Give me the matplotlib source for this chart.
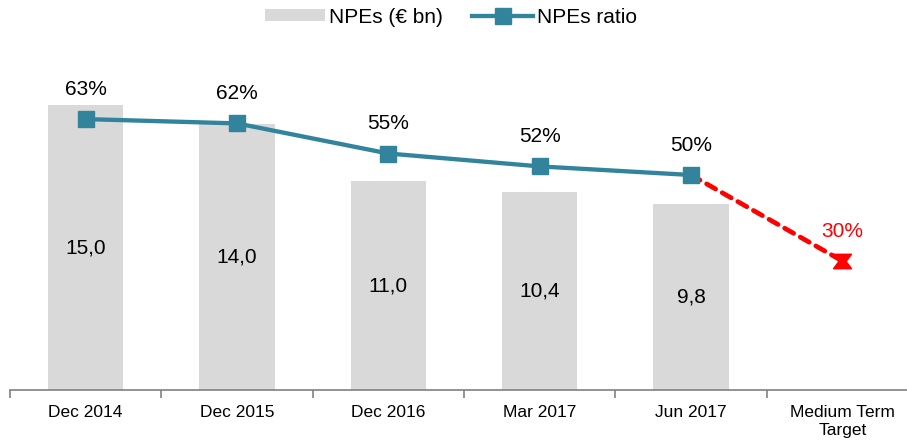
import matplotlib
matplotlib.use("Agg")
import matplotlib.pyplot as plt
from matplotlib.lines import Line2D
from matplotlib.patches import Patch

plt.rcParams['font.family'] = ['Liberation Sans', 'DejaVu Sans']

categories = ["Dec 2014", "Dec 2015", "Dec 2016", "Mar 2017", "Jun 2017", "Medium Term\nTarget"]
npes_bn = [15.0, 14.0, 11.0, 10.4, 9.8]
npes_ratio = [63, 62, 55, 52, 50]
target_ratio = 30

W, H = 907, 445
fig = plt.figure(figsize=(W/100, H/100), dpi=100)
left_px, right_px = 10, 918
bottom_px, top_px = 390, 40
ax = fig.add_axes([left_px/W, (H-bottom_px)/H, (right_px-left_px)/W, (bottom_px-top_px)/H])
ax2 = ax.twinx()

x = list(range(len(categories)))
bar_color = "#D9D9D9"
line_color = "#31849B"

ax.bar(x[:len(npes_bn)], npes_bn, width=0.5, color=bar_color, zorder=1)
for xi, v in zip(x, npes_bn):
    ax.text(xi, v/2, f"{v:.1f}".replace(".", ","), ha="center", va="center", fontsize=15, color="black")

ax.set_xlim(-0.5, len(categories)-0.5)
ax.set_ylim(0, 350/19)
ax2.set_ylim(0, 350/4.3)

hourglass = [(-1, 0.8), (1, 0.8), (0.4, 0), (1, -0.8), (-1, -0.8), (-0.4, 0), (-1, 0.8)]

# dashed target line
ax2.plot([x[4], x[5]], [npes_ratio[-1], target_ratio], color="red", lw=3.4, ls=(0, (2.2, 1.6)),
         dash_capstyle="round", zorder=3)
ax2.plot([x[5]], [target_ratio], marker=hourglass, ms=13, color="red", zorder=4)
ax2.plot(x[:len(npes_ratio)], npes_ratio, color=line_color, lw=3.1, marker="s", ms=12,
         markerfacecolor=line_color, markeredgecolor=line_color, zorder=5)

off = 30 / 4.3
for xi, v in zip(x, npes_ratio):
    ax2.text(xi, v + off, f"{v}%", ha="center", va="center", fontsize=15, color="black")
ax2.text(x[5], target_ratio + off, f"{target_ratio}%", ha="center", va="center", fontsize=15, color="red")

# axes styling
for a in (ax, ax2):
    for s in ("top", "right", "left"):
        a.spines[s].set_visible(False)
    a.set_yticks([])
ax2.spines["bottom"].set_visible(False)
ax.spines["bottom"].set_color("#808080")
ax.spines["bottom"].set_linewidth(1.2)

ax.set_xticks([i + 0.5 for i in range(-1, len(categories))], minor=False)
ax.set_xticklabels([])
ax.tick_params(axis="x", direction="out", length=6, color="#808080", width=1.2)
ax.set_xticks(x, minor=True)
ax.set_xticklabels(categories, minor=True, fontsize=12.5)
ax.tick_params(axis="x", which="minor", length=0, pad=11)

handles = [Patch(facecolor=bar_color, edgecolor="none", label="NPEs (€ bn)"),
           Line2D([0], [0], color=line_color, lw=3.1, marker="s", ms=12, label="NPEs ratio")]
fig.legend(handles=handles, loc="upper center", bbox_to_anchor=(0.497, 1.025), ncol=2, frameon=False,
           fontsize=15, handlelength=2.9, handleheight=0.5, columnspacing=1.4, handletextpad=0.2)

fig.savefig("out.png", dpi=100)
